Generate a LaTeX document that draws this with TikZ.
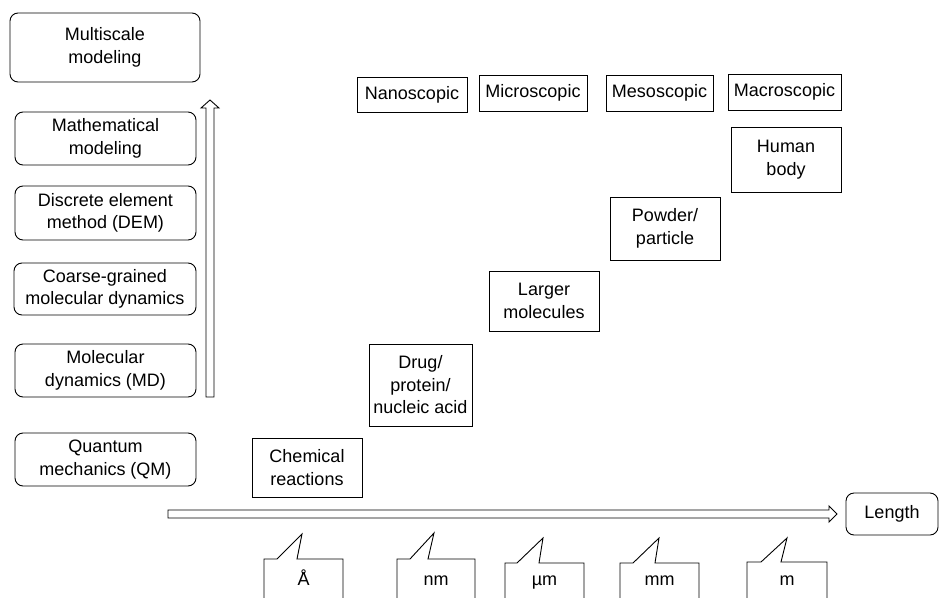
\documentclass[tikz,border=0pt]{standalone}
\usepackage{fontspec}
\setmainfont{Liberation Sans}
\usepackage{tikz}
\usetikzlibrary{arrows.meta}

\begin{document}
\begin{tikzpicture}[x=1pt,y=-1pt,line width=0.9pt,
  method/.style={draw,rounded corners=8pt,align=center,inner sep=0pt,font=\fontsize{18}{22.5}\selectfont},
  scalebox/.style={draw,align=center,inner sep=0pt,font=\fontsize{18}{22.5}\selectfont},
  unitlab/.style={inner sep=0pt,anchor=base,font=\fontsize{18}{22.5}\selectfont}]
\useasboundingbox (0,0) rectangle (939,597);
% methods (left column)
\node[method,minimum width=190pt,minimum height=69pt] (multi) at (105,47.5) {Multiscale\\modeling};
\node[method,minimum width=181pt,minimum height=53pt] (math) at (105.5,138.5) {Mathematical\\modeling};
\node[method,minimum width=181pt,minimum height=54pt] (dem) at (105.5,213) {Discrete element\\method (DEM)};
\node[method,minimum width=182pt,minimum height=52pt] (cgmd) at (105,289) {Coarse-grained\\molecular dynamics};
\node[method,minimum width=181pt,minimum height=53pt] (md) at (105.5,370.5) {Molecular\\dynamics (MD)};
\node[method,minimum width=181pt,minimum height=53pt] (qm) at (105.5,459.5) {Quantum\\mechanics (QM)};
% hollow arrows
\coordinate (vtail) at (210,397);\coordinate (vtip) at (210,100);
\draw (vtail) ++(-4,0) -- ++(0,-289) -- ++(-5,0) -- (vtip) -- ++(9,8) -- ++(-5,0) -- ++(0,289) -- cycle;
\coordinate (htail) at (168,514);\coordinate (htip) at (837,514);
\draw (htail) ++(0,-4) -- ++(661,0) -- ++(0,-4) -- (htip) -- ++(-8,8) -- ++(0,-4) -- ++(-661,0) -- cycle;
\node[method,minimum width=92pt,minimum height=42pt] (length) at (892,514) {Length};
% scales
\node[scalebox,minimum width=110pt,minimum height=35pt] (nano) at (412,94.5) {Nanoscopic};
\node[scalebox,minimum width=108pt,minimum height=36pt] (micro) at (533,93) {Microscopic};
\node[scalebox,minimum width=107pt,minimum height=36pt] (meso) at (659.5,93) {Mesoscopic};
\node[scalebox,minimum width=113pt,minimum height=36pt] (macro) at (784.5,92) {Macroscopic};
% systems
\node[scalebox,minimum width=110pt,minimum height=65pt] (body) at (786,159.5) {Human\\body};
\node[scalebox,minimum width=110pt,minimum height=63pt] (powder) at (665,228.5) {Powder/\\particle};
\node[scalebox,minimum width=110pt,minimum height=60pt] (larger) at (544,301) {Larger\\molecules};
\node[scalebox,minimum width=103pt,minimum height=82pt] (drug) at (420.5,385) {Drug/\\protein/\\nucleic acid};
\node[scalebox,minimum width=110pt,minimum height=59pt] (chem) at (307,467.5) {Chemical\\reactions};
% unit callouts
\foreach \nm/\l/\r/\t/\ba/\bb/\tx/\ty/\lab in {ang/264/343/559/277/297/302/534/Å,nm/397/475/559/410/428/434/533/nm,um/505/584/563/517/539/543/538/µm,mm/620/699/563/633/655/659/538/mm,m/747/827/562/761/781/787/538/m}{
  \draw (\l,600) -- (\l,\t) -- (\ba,\t) -- (\tx,\ty) -- (\bb,\t) -- (\r,\t) -- (\r,600);
  \node[unitlab] (\nm) at ({(\l+\r)/2},585) {\lab};
}
\end{tikzpicture}
\end{document}
